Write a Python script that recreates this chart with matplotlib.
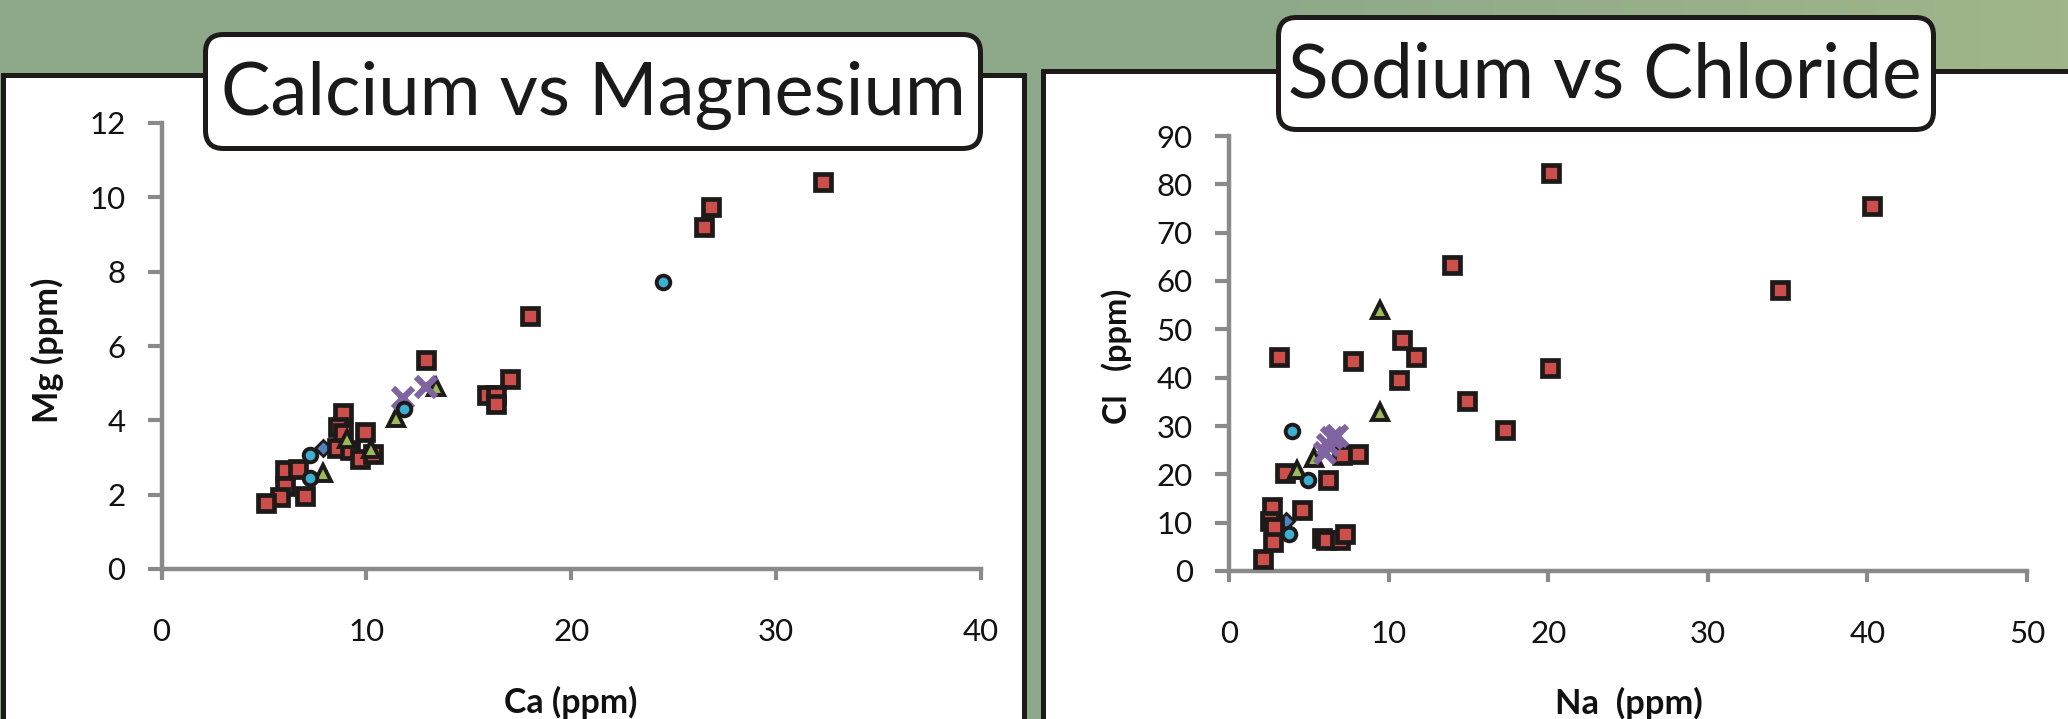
import numpy as np
import matplotlib
matplotlib.use("Agg")
import matplotlib.pyplot as plt
from matplotlib.patches import Rectangle, FancyBboxPatch

# ---------------- data ----------------
# Calcium vs Magnesium
ca_sq = [32.3, 26.8, 26.5, 18.0, 12.9, 17.0, 15.9, 16.3, 16.3, 8.87, 8.63, 8.87,
         9.93, 8.55, 9.2, 9.69, 10.33, 6.02, 6.66, 6.02, 5.8, 6.99, 5.09]
mg_sq = [10.4, 9.75, 9.2, 6.8, 5.62, 5.1, 4.68, 4.68, 4.45, 4.21, 3.83, 3.66,
         3.69, 3.25, 3.2, 2.95, 3.1, 2.66, 2.70, 2.23, 1.93, 1.97, 1.77]
ca_ci = [24.5, 11.85, 7.24, 7.24]
mg_ci = [7.71, 4.30, 3.06, 2.45]
ca_tr = [13.4, 11.45, 9.03, 10.2, 7.87]
mg_tr = [4.9, 4.05, 3.5, 3.22, 2.57]
ca_x = [11.8, 12.93]
mg_x = [4.59, 4.90]
ca_di = [7.9]
mg_di = [3.25]

# Sodium vs Chloride
na_sq = [20.2, 40.3, 14.0, 34.5, 10.83, 11.7, 3.11, 7.79, 10.68, 20.1, 14.94, 17.3,
         6.2, 7.1, 8.1, 3.5, 2.67, 4.55, 2.57, 2.85, 2.78, 2.15, 5.81, 6.1, 6.96, 7.27]
cl_sq = [82.4, 75.5, 63.4, 58.2, 47.8, 44.2, 44.2, 43.5, 39.6, 42.1, 35.1, 29.1,
         18.8, 24.0, 24.2, 20.3, 13.2, 12.6, 10.4, 9.2, 5.9, 2.4, 6.8, 6.4, 6.4, 7.6]
na_ci = [3.93, 4.97, 3.78]
cl_ci = [28.9, 18.8, 7.7]
na_tr = [9.43, 9.43, 5.35, 4.24]
cl_tr = [53.9, 32.8, 23.3, 20.9]
na_x = [6.45, 6.75, 6.0, 6.2]
cl_x = [27.6, 28.0, 24.4, 26.0]
na_di = [3.6]
cl_di = [10.4]

titles = ["Calcium vs Magnesium", "Sodium vs Chloride"]
xlabels = ["Ca (ppm)", "Na  (ppm)"]
ylabels = ["Mg (ppm)", "Cl   (ppm)"]
xticks = [[0, 10, 20, 30, 40], [0, 10, 20, 30, 40, 50]]
yticks = [[0, 2, 4, 6, 8, 10, 12], [0, 10, 20, 30, 40, 50, 60, 70, 80, 90]]

# ---------------- figure ----------------
W, H = 2068, 719
DPI = 100
FONT = "Lato"
plt.rcParams["font.family"] = [FONT, "DejaVu Sans"]

fig = plt.figure(figsize=(W / DPI, H / DPI), dpi=DPI)
fig.patch.set_facecolor("#8DA98A")

# background gradient (green, lighter to the right)
bg = fig.add_axes([0, 0, 1, 1], zorder=0)
gx = np.linspace(0, 1, 400)
c0 = np.array([141, 169, 137]) / 255.0
c1 = np.array([160, 182, 138]) / 255.0
grad = np.clip((gx - 0.6) / 0.4, 0, 1)[None, :, None]
img = c0[None, None, :] * (1 - grad) + c1[None, None, :] * grad
bg.imshow(np.repeat(img, 2, axis=0), aspect="auto", extent=[0, 1, 0, 1])
bg.set_axis_off()

inch = fig.dpi_scale_trans


def px(x, y):
    return x / DPI, (H - y) / DPI


# white panels with black border
for (x0, x1, ytop) in [(3, 1024, 74.5), (1043, 2120, 70.5)]:
    X0, Y0 = px(x0, ytop)
    rect = Rectangle((X0, -1), (x1 - x0) / DPI, Y0 + 1, transform=inch,
                     facecolor="white", edgecolor="#1E1A1A", linewidth=3.6,
                     zorder=1)
    fig.patches.append(rect)

# title boxes
boxes = [(205.5, 980.5, 34.5, 148.5), (1278.5, 1933.5, 17.5, 129.5)]
for (x0, x1, yt, yb) in boxes:
    X0, Y0 = px(x0, yb)
    fb = FancyBboxPatch((X0, Y0), (x1 - x0) / DPI, (yb - yt) / DPI,
                        boxstyle="round,pad=0,rounding_size=0.18",
                        transform=inch, facecolor="white", edgecolor="#1E1A1A",
                        linewidth=3.6, zorder=4)
    fig.patches.append(fb)

fit_texts = []  # (text, target pixel length, rotated)

title_pos = [(593.5, 115, 745), (1604.5, 97, 633)]
for t, (x, y, tw) in zip(titles, title_pos):
    X, Y = px(x, y)
    tt = fig.text(X, Y, t, transform=inch, ha="center", va="baseline",
                  fontsize=52, color="#1A1A1A", zorder=5, family=FONT)
    fit_texts.append((tt, tw, False))

# axes positions (pixels)
ax_px = [(161.6, 981, 123, 569), (1229, 2027, 136, 571)]
xlims = [(0, 40), (0, 50)]
ylims = [(0, 12), (0, 90)]

data = [
    (ca_sq, mg_sq, ca_ci, mg_ci, ca_tr, mg_tr, ca_x, mg_x, ca_di, mg_di),
    (na_sq, cl_sq, na_ci, cl_ci, na_tr, cl_tr, na_x, cl_x, na_di, cl_di),
]

AXC = "#8A8A8A"
EDGE = "#1E1A1A"
for i in range(2):
    x0, x1, yt, yb = ax_px[i]
    ax = fig.add_axes([x0 / W, (H - yb) / H, (x1 - x0) / W, (yb - yt) / H],
                      zorder=3)
    ax.patch.set_alpha(0)
    ax.set_xlim(*xlims[i])
    ax.set_ylim(*ylims[i])
    for s in ["top", "right"]:
        ax.spines[s].set_visible(False)
    for s in ["left", "bottom"]:
        ax.spines[s].set_color(AXC)
        ax.spines[s].set_linewidth(3.2)
        ax.spines[s].set_capstyle("projecting")
    ax.set_xticks(xticks[i])
    ax.set_yticks(yticks[i])
    ax.tick_params(axis="y", direction="out", length=10, width=3, color=AXC,
                   labelsize=22.5, pad=16, labelcolor="#111111")
    ax.tick_params(axis="x", direction="out", length=8, width=3, color=AXC,
                   labelsize=22.5, pad=27, labelcolor="#111111")
    for lab in ax.get_xticklabels() + ax.get_yticklabels():
        lab.set_family(FONT)

    sqx, sqy, cix, ciy, trx, try_, xx, xy, dix, diy = data[i]
    ax.plot(dix, diy, linestyle="none", marker="D", ms=8, mfc="#4F81BD",
            mec=EDGE, mew=2.0, zorder=3, clip_on=False)
    ax.plot(sqx, sqy, linestyle="none", marker="s", ms=11, mfc="#CC4F4B",
            mec=EDGE, mew=3.4, zorder=4, clip_on=False)
    ax.plot(trx, try_, linestyle="none", marker="^", ms=11.5, mfc="#9BBB59",
            mec=EDGE, mew=2.8, zorder=5, clip_on=False)
    ax.plot(xx, xy, linestyle="none", marker="x", ms=15, mec="#8064A2",
            mew=4.5, zorder=6, clip_on=False)
    ax.plot(cix, ciy, linestyle="none", marker="o", ms=9.8, mfc="#3DAFD0",
            mec=EDGE, mew=2.8, zorder=7, clip_on=False)

# axis labels
xl_pos = [(571, 702, 133), (1629, 703, 148)]
yl_pos = [(47, 350, 145), (1117, 356, 135)]
for i in range(2):
    x, y, tw = xl_pos[i]
    X, Y = px(x, y)
    tt = fig.text(X, Y, xlabels[i], transform=inch, ha="center", va="center",
                  fontsize=22, fontweight="bold", color="#111111", zorder=5,
                  family=FONT)
    fit_texts.append((tt, tw, False))
    x, y, tw = yl_pos[i]
    X, Y = px(x, y)
    tt = fig.text(X, Y, ylabels[i], transform=inch, ha="center", va="center",
                  rotation=90, fontsize=22, fontweight="bold", color="#111111",
                  zorder=5, family=FONT)
    fit_texts.append((tt, tw, True))

# scale text sizes so their lengths match the reference
fig.canvas.draw()
rend = fig.canvas.get_renderer()
for tt, tw, rot in fit_texts:
    bb = tt.get_window_extent(rend)
    cur = bb.height if rot else bb.width
    if cur > 0:
        tt.set_fontsize(tt.get_fontsize() * tw / cur)

fig.savefig("out.png", dpi=DPI, facecolor=fig.get_facecolor())
